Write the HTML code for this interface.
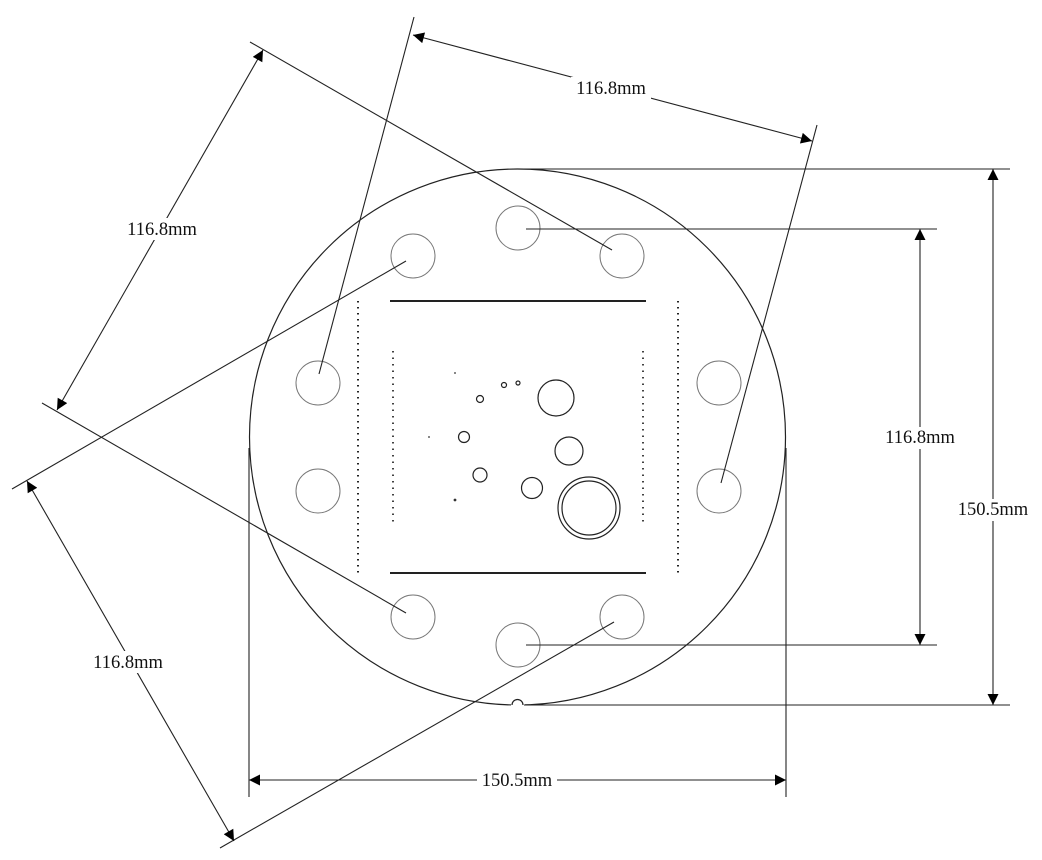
<!DOCTYPE html>
<html><head><meta charset="utf-8"><style>
html,body{margin:0;padding:0;background:#fff;}
svg{display:block;}
text{font-family:"Liberation Serif",serif;font-size:18.5px;fill:#111;}
</style></head><body>
<svg width="1042" height="860" viewBox="0 0 1042 860" xmlns="http://www.w3.org/2000/svg">
<defs>
<marker id="a" viewBox="0 0 10 10" refX="10" refY="5" markerWidth="17" markerHeight="11" markerUnits="userSpaceOnUse" orient="auto-start-reverse">
<path d="M0,0 L10,5 L0,10 z" fill="#000"/></marker>
</defs>
<g fill="none" stroke="#222" stroke-width="1.2">
<circle cx="517.5" cy="437" r="268"/>
<g stroke="#777" stroke-width="1">
<circle cx="518" cy="228" r="22"/><circle cx="622" cy="256" r="22"/><circle cx="413" cy="256" r="22"/>
<circle cx="318" cy="383" r="22"/><circle cx="719" cy="383" r="22"/>
<circle cx="318" cy="491" r="22"/><circle cx="719" cy="491" r="22"/>
<circle cx="413" cy="617" r="22"/><circle cx="622" cy="617" r="22"/><circle cx="518" cy="645" r="22"/>
</g>
<rect x="511" y="699" width="14" height="8" fill="#fff" stroke="none"/>
<path d="M512,705 A5.5,5.5 0 0 1 523,705"/>
<line x1="390" y1="301" x2="646" y2="301" stroke-width="2"/>
<line x1="390" y1="573" x2="646" y2="573" stroke-width="2"/>
<line x1="358" y1="301" x2="358" y2="575" stroke-width="2" stroke-dasharray="1.5 4.5"/>
<line x1="678" y1="301" x2="678" y2="575" stroke-width="2" stroke-dasharray="1.5 4.5"/>
<line x1="393" y1="351" x2="393" y2="523" stroke-width="1.7" stroke-dasharray="1.5 5"/>
<line x1="643" y1="351" x2="643" y2="523" stroke-width="1.7" stroke-dasharray="1.5 5"/>
<circle cx="556" cy="398" r="18"/>
<circle cx="569" cy="451" r="14"/>
<circle cx="589" cy="508" r="31"/><circle cx="589" cy="508" r="27"/>
<circle cx="532" cy="488" r="10.5"/>
<circle cx="480" cy="475" r="7"/>
<circle cx="464" cy="437" r="5.5"/>
<circle cx="480" cy="399" r="3.5"/>
<circle cx="504" cy="385" r="2.5"/>
<circle cx="518" cy="383" r="2"/>
</g>
<g fill="#333"><circle cx="455" cy="373" r="0.9"/><circle cx="429" cy="437" r="0.9"/><circle cx="455" cy="500" r="1.4"/></g>
<g fill="none" stroke="#222" stroke-width="1.1">
<line x1="250" y1="42" x2="612" y2="250"/>
<line x1="42" y1="403" x2="406" y2="613"/>
<line x1="414" y1="17" x2="319" y2="374"/>
<line x1="12" y1="489" x2="406" y2="261"/>
<line x1="817" y1="125" x2="721" y2="483"/>
<line x1="220" y1="848" x2="614" y2="622"/>
<line x1="518" y1="169" x2="1010" y2="169"/>
<line x1="524" y1="705" x2="1010" y2="705"/>
<line x1="526" y1="229" x2="937" y2="229"/>
<line x1="526" y1="645" x2="937" y2="645"/>
<line x1="249" y1="448" x2="249" y2="797"/>
<line x1="786" y1="448" x2="786" y2="797"/>
<line x1="263" y1="50" x2="57" y2="410" marker-start="url(#a)" marker-end="url(#a)"/>
<line x1="413" y1="35" x2="812" y2="141" marker-start="url(#a)" marker-end="url(#a)"/>
<line x1="27" y1="481" x2="234" y2="841" marker-start="url(#a)" marker-end="url(#a)"/>
<line x1="993" y1="169" x2="993" y2="705" marker-start="url(#a)" marker-end="url(#a)"/>
<line x1="920" y1="229" x2="920" y2="645" marker-start="url(#a)" marker-end="url(#a)"/>
<line x1="249" y1="780" x2="786" y2="780" marker-start="url(#a)" marker-end="url(#a)"/>
</g>
<g>
<rect x="122" y="218" width="80" height="22" fill="#fff"/>
<text x="162" y="235" text-anchor="middle">116.8mm</text>
<rect x="571" y="77" width="80" height="22" fill="#fff"/>
<text x="611" y="94" text-anchor="middle">116.8mm</text>
<rect x="88" y="651" width="80" height="22" fill="#fff"/>
<text x="128" y="668" text-anchor="middle">116.8mm</text>
<rect x="880" y="427" width="80" height="22" fill="#fff"/>
<text x="920" y="443" text-anchor="middle">116.8mm</text>
<rect x="953" y="499" width="80" height="22" fill="#fff"/>
<text x="993" y="515" text-anchor="middle">150.5mm</text>
<rect x="477" y="770" width="80" height="22" fill="#fff"/>
<text x="517" y="786" text-anchor="middle">150.5mm</text>
</g>
</svg>
</body></html>
